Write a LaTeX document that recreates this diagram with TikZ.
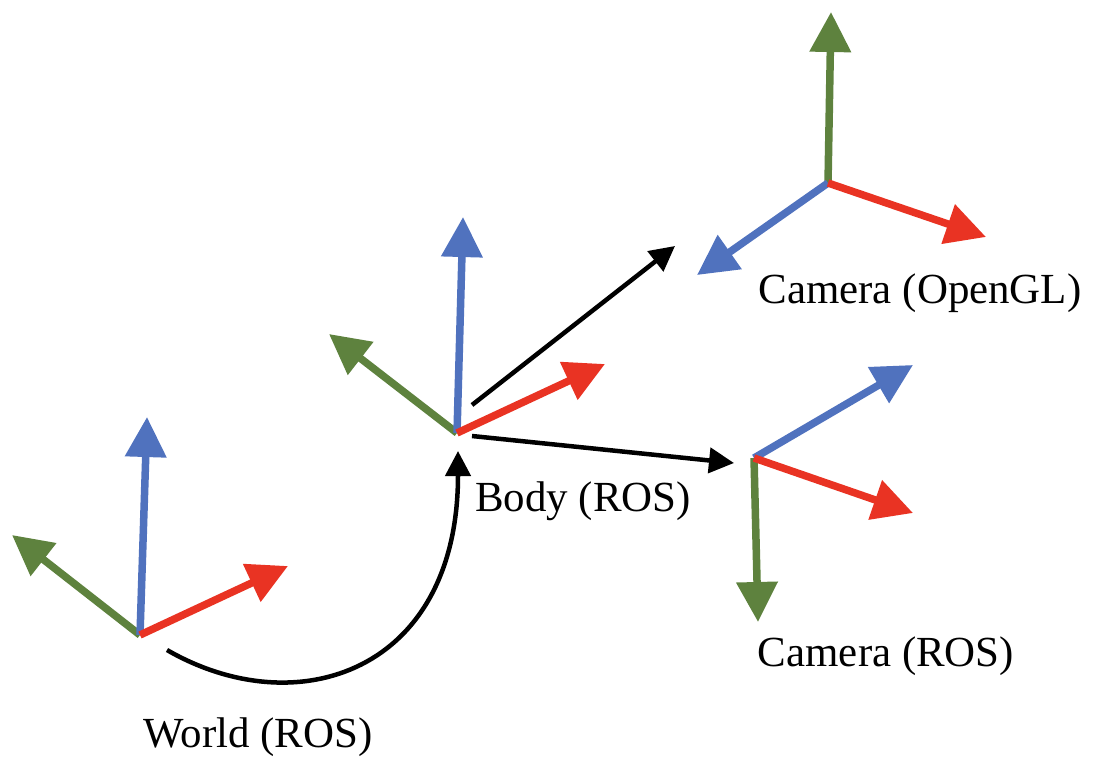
\documentclass[tikz,border=0pt]{standalone}
\usepackage{fontspec}
\setmainfont{Liberation Serif}
\usetikzlibrary{arrows.meta}

\definecolor{axisblue}{RGB}{80,114,190}
\definecolor{axisgreen}{RGB}{94,130,62}
\definecolor{axisred}{RGB}{233,51,35}

\begin{document}
\begin{tikzpicture}[x=0.01cm,y=-0.01cm,
        axis/.style={line width=0.075cm,-{Triangle[length=0.4cm,width=0.4cm]}},
        link/.style={line width=0.045cm,-{Triangle[length=0.25cm,width=0.25cm]}},
        framelabel/.style={font=\fontsize{12.2}{14}\selectfont,inner sep=0pt}]
        %   \draw [help lines] (0,0) grid [step=100] (1098,782);
        \useasboundingbox (0,0) rectangle (1098,782);

        % frame origins and axis tips
        \coordinate (world) at (140,635);
        \coordinate (world-x) at (288,566);
        \coordinate (world-y) at (12,535);
        \coordinate (world-z) at (147,417);

        \coordinate (body) at (457,433);
        \coordinate (body-x) at (605,364);
        \coordinate (body-y) at (329,334);
        \coordinate (body-z) at (463,217);

        \coordinate (gl) at (828,183);
        \coordinate (gl-x) at (986,237);
        \coordinate (gl-y) at (831,12);
        \coordinate (gl-z) at (697,275);

        \coordinate (cam) at (754,458);
        \coordinate (cam-x) at (913,513);
        \coordinate (cam-y) at (758,622);
        \coordinate (cam-z) at (913,365);

        \draw[axis,axisgreen] (world) -- (world-y);
        \draw[axis,axisblue] (world) -- (world-z);
        \draw[axis,axisred] (world) -- (world-x);

        \draw[axis,axisgreen] (body) -- (body-y);
        \draw[axis,axisblue] (body) -- (body-z);
        \draw[axis,axisred] (body) -- (body-x);

        \draw[axis,axisgreen] (gl) -- (gl-y);
        \draw[axis,axisblue] (gl) -- (gl-z);
        \draw[axis,axisred] (gl) -- (gl-x);

        \draw[axis,axisgreen] (cam) -- (cam-y);
        \draw[axis,axisblue] (cam) -- (cam-z);
        \draw[axis,axisred] (cam) -- (cam-x);

        % transforms
        \coordinate (world-out) at (167,650);
        \coordinate (body-in) at (458,451);
        \coordinate (body-out1) at (472,405);
        \coordinate (gl-in) at (675,246);
        \coordinate (body-out2) at (472,436);
        \coordinate (cam-in) at (734,463);

        \draw[link] (world-out) .. controls (297,725) and (458,672) .. (body-in);
        \draw[link] (body-out1) -- (gl-in);
        \draw[link] (body-out2) -- (cam-in);

        \node [framelabel] (world-label) at (258,737) {World (ROS)};
        \node [framelabel] (body-label) at (583,501) {Body (ROS)};
        \node [framelabel] (gl-label) at (920,293) {Camera (OpenGL)};
        \node [framelabel] (cam-label) at (886,656) {Camera (ROS)};
    \end{tikzpicture}
\end{document}
